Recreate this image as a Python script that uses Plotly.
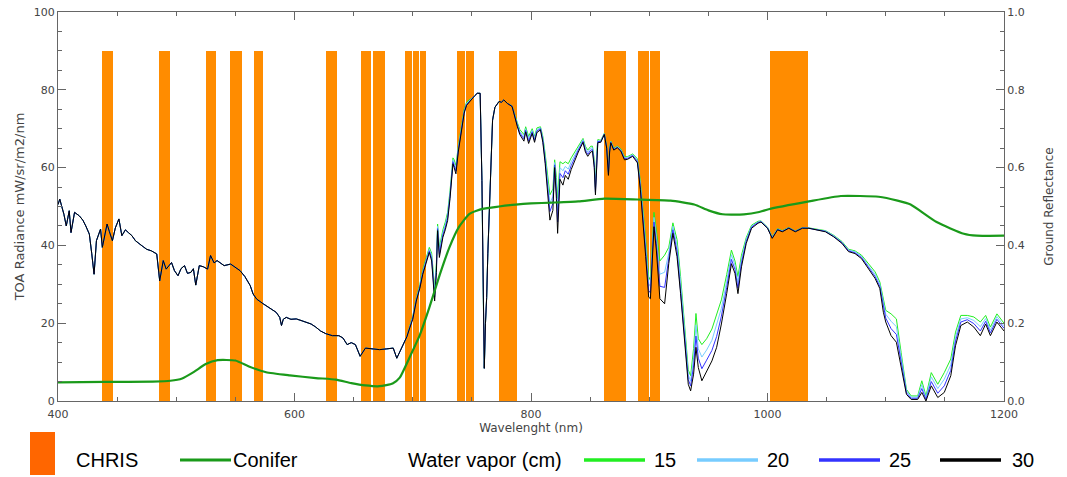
import plotly.graph_objects as go

# ---------------- data ----------------
# CHRIS band edges (nm)
band_start = [437.5, 485.5, 525.5, 545.5, 565.5, 626.5, 656, 666, 693.5, 700.2,
              706.5, 737.5, 745.2, 773.2, 862, 890.8, 900.4, 1001.8]
band_end = [446.2, 494.5, 533.5, 556, 573, 636, 665, 676.5, 699.2, 705.5,
            711.5, 744.3, 751.5, 787.8, 880.2, 899.4, 908.9, 1034.5]
band_height = 90

# visible part: all water vapour curves overlap
wl_vis = [400, 401.5, 403, 405, 407, 409.5, 411, 414, 418, 421,
          423.5, 426.5, 428.5, 430.5, 432.5, 436, 437.5, 441.5, 443.5, 446,
          448.5, 451.5, 454, 457, 459.5, 462.5, 465.5, 468, 471, 475,
          479, 483.5, 486, 489, 491.5, 496, 498.5, 501.5, 504, 507,
          509.5, 512.5, 514.5, 516.5, 519.5, 523, 526.5, 529, 532, 534.5,
          537.5, 540.5, 546, 550, 554, 558, 562.5, 565, 568, 573.5,
          579, 584.5, 587.5, 589, 590.5, 593, 597, 601.5, 605.5, 609.5,
          614, 618, 622, 626.5, 632, 637.5, 641, 644.5, 648, 651.5,
          655.5, 660, 665, 672, 678, 683.5, 686.5, 689, 692, 695]
rad_vis = [50.5, 51.9, 50.2, 48, 45, 48.9, 43.3, 48.5, 47.6, 46.5,
           45, 42.9, 38, 32.6, 41.2, 44.2, 39.5, 45.5, 43.5, 41.2,
           44.5, 46.8, 42.5, 44, 43.3, 42.5, 41.2, 40.5, 39.9, 39,
           38.6, 37.8, 30.9, 36.1, 33.9, 35.6, 33.5, 32.2, 34, 34.8,
           32.8, 33.1, 34, 29.8, 34.8, 34.5, 33.9, 37.4, 35.5, 36.1,
           35.5, 34.8, 35.2, 34.3, 33.5, 32, 29.7, 27.5, 26.2, 25,
           24, 22.8, 21.5, 19.4, 21, 21.5, 21, 21.1, 20.7, 20.3,
           19.8, 19, 18, 17.3, 16.8, 16.8, 16.2, 14.5, 15, 14.5,
           11.5, 13.6, 13.5, 13.2, 13.4, 13.6, 11, 12.5, 14.5, 16.5]

wl_nir = [697.5, 700, 703, 706, 708.5, 711.5, 714, 716, 717.5, 718.5,
          720, 721, 722.5, 725.5, 727.5, 729.5, 731.5, 734, 735, 736.5,
          738.5, 741, 743.5, 745.5, 748, 750, 752.5, 754.5, 757, 758.5,
          759.5, 760.5, 761.5, 762.5, 763.5, 764.5, 766, 767.5, 769.5, 773,
          775, 777, 780, 784, 788.5, 790.5, 794, 795.5, 798, 801,
          803, 805, 808, 810, 812, 814.5, 816, 818.5, 820, 821.5,
          822.5, 824.5, 827, 829, 831.5, 834, 837, 840, 844, 846,
          848, 850.5, 852, 853.5, 854.5, 855.5, 856.5, 859, 862, 864,
          865.5, 866.5, 867.5, 870, 873, 876, 879, 881.5, 886, 890,
          892.5, 897, 899.5, 901, 902.5, 904, 906, 909, 913, 916.5,
          920, 923.5, 926.5, 930.5, 933, 935, 937.5, 939.5, 941.5, 944.5,
          948.5, 953, 957, 961, 965.5, 969.5, 972.5, 975, 978, 982,
          986.5, 992, 994.5, 1000, 1004, 1008.5, 1012.5, 1018, 1023.5, 1029.5,
          1035, 1040.5, 1049, 1056, 1063, 1068.5, 1074, 1079.5, 1085, 1091,
          1095, 1098, 1100, 1104.5, 1109, 1113, 1117.5, 1121.5, 1127, 1130.5,
          1134, 1138.5, 1144, 1149.5, 1155, 1159, 1163.5, 1169, 1174.5, 1180,
          1184.5, 1188.5, 1194, 1200]

rad15_nir = [19.3, 21.8, 26.5, 30, 33.8, 36.8, 39.5, 38, 33, 29,
             35.5, 45.5, 39.5, 44, 46, 48.5, 54, 62.5, 62, 60.5,
             65.5, 70, 75, 76.8, 77.5, 77.8, 78.6, 79.1, 79.1, 56.7,
             30, 8.4, 20, 26.6, 38, 48.1, 62, 72.2, 75.5, 77,
             76.8, 77.4, 76.5, 75.9, 71.5, 69.8, 68.5, 70.5, 68, 70,
             68, 70.2, 70.5, 68, 63.5, 56.5, 53, 54.5, 62, 57.5,
             52, 61.5, 61, 61.5, 61, 62.5, 64, 65.5, 67.5, 65.5,
             64.5, 65.5, 65.5, 62, 55, 63.5, 67.2, 67, 68.8, 65.5,
             59, 65, 66.8, 65, 65.5, 64.8, 62.8, 62.8, 63.5, 62.3,
             56.5, 41.5, 32, 31, 41, 48.5, 44, 36, 37.5, 39.5,
             45.8, 41.5, 32, 17.5, 8, 6.5, 13.5, 22.5, 16, 14.5,
             16, 18.5, 22.5, 26, 32.5, 38.8, 36, 32, 37.5, 42,
             45.2, 46.2, 46.3, 44.7, 42.2, 44.3, 43.8, 44.6, 43.7, 44.6,
             44.5, 44.2, 43.8, 42.6, 41, 39, 38.6, 37.5, 35.3, 33.2,
             30.6, 26.3, 23.3, 22.4, 21.1, 12.5, 3, 1.3, 1.3, 5.2,
             1.3, 7.3, 4.3, 7.3, 10.8, 17.7, 22, 22, 21.6, 20.3,
             22, 19, 22.4, 20]

rad20_nir = [19.1, 21.5, 26.2, 29.6, 33.3, 36.3, 39, 37.3, 32, 27.8,
             34.6, 44.9, 38.6, 43.3, 45.3, 47.8, 53.3, 62, 61.3, 59.8,
             65, 69.6, 74.6, 76.5, 77.3, 77.7, 78.6, 79.1, 79.1, 56.7,
             30, 8.4, 20, 26.6, 38, 48.1, 62, 72.2, 75.5, 77,
             76.8, 77.4, 76.5, 75.8, 71.1, 69.3, 67.9, 70, 67.4, 69.6,
             67.5, 69.8, 70.2, 67.5, 62.6, 55, 50.8, 52.6, 61.3, 55.6,
             49, 60, 59.2, 60.3, 59.6, 61.5, 63.3, 65, 67.2, 65,
             64, 65, 65.1, 61.3, 54.3, 63, 66.9, 66.8, 68.7, 65.3,
             58.6, 64.6, 66.7, 64.8, 65.4, 64.6, 62.5, 62.6, 63.3, 61.9,
             55.7, 40, 30.2, 29.4, 39.3, 47.2, 42.2, 32.6, 33.1, 38,
             44.9, 40, 30.5, 15.9, 6.7, 5.1, 11.2, 19.5, 13.4, 11.3,
             13.1, 15.6, 19.4, 23.8, 30.8, 37.6, 34.9, 30.5, 36.5, 41.5,
             44.9, 46, 46.2, 44.6, 42.1, 44.2, 43.7, 44.5, 43.6, 44.5,
             44.5, 44.1, 43.7, 42.5, 40.8, 38.8, 38.4, 37.2, 34.9, 32.6,
             30, 25.1, 22.3, 20.5, 19.1, 11.4, 2.6, 1, 1, 4.2,
             0.9, 6.2, 3.2, 5.6, 9.3, 16.5, 21.1, 21.4, 20.7, 19.1,
             21.2, 18.2, 21.7, 19.3]

rad25_nir = [19, 21.3, 26, 29.3, 33, 35.9, 38.6, 36.6, 31, 26.8,
             33.8, 44.3, 37.7, 42.7, 44.6, 47.1, 52.6, 61.5, 60.6, 59.1,
             64.5, 69.2, 74.3, 76.2, 77.1, 77.6, 78.5, 79.1, 79.1, 56.7,
             30, 8.4, 20, 26.6, 38, 48.1, 62, 72.2, 75.5, 77,
             76.8, 77.4, 76.5, 75.8, 70.8, 68.9, 67.4, 69.6, 66.8, 69.2,
             67, 69.4, 70, 67, 61.8, 53.5, 48.7, 50.8, 60.7, 53.8,
             46, 58.5, 57.4, 59.2, 58.3, 60.5, 62.7, 64.5, 66.8, 64.5,
             63.4, 64.5, 64.6, 60.7, 53.7, 62.5, 66.7, 66.7, 68.6, 65.2,
             58.3, 64.3, 66.5, 64.7, 65.2, 64.4, 62.3, 62.3, 63.1, 61.6,
             55, 38.5, 28.4, 27.8, 37.8, 46, 40.5, 29.5, 29.2, 36.7,
             44, 38.5, 29, 14.4, 5.5, 3.9, 9, 16.7, 11, 8.3,
             10.5, 13, 16.6, 21.8, 29.2, 36.4, 33.8, 29, 35.5, 41,
             44.7, 45.9, 46.1, 44.5, 41.9, 44.1, 43.6, 44.5, 43.6, 44.5,
             44.4, 44.1, 43.6, 42.3, 40.7, 38.6, 38.1, 36.9, 34.5, 32,
             29.4, 23.9, 21.3, 18.6, 17.1, 10.2, 2.1, 0.7, 0.7, 3.2,
             0.4, 5, 2, 3.9, 7.9, 15.4, 20.3, 20.9, 19.9, 18,
             20.5, 17.5, 21, 18.7]

rad30_nir = [18.8, 21, 25.7, 29, 32.6, 35.5, 38.2, 36, 30, 25.7,
             33, 43.8, 36.9, 42.1, 44, 46.4, 52, 61, 60, 58.4,
             64, 68.8, 74, 76, 77, 77.5, 78.5, 79.1, 79.1, 56.7,
             30, 8.4, 20, 26.6, 38, 48.1, 62, 72.2, 75.5, 77,
             76.8, 77.4, 76.5, 75.7, 70.5, 68.5, 66.8, 69.2, 66.2, 68.8,
             66.5, 69, 69.7, 66.5, 61, 52, 46.5, 49, 60, 52,
             43.1, 57, 55.5, 58, 57, 59.5, 62, 64, 66.5, 64,
             62.9, 64, 64.2, 60, 53, 62, 66.4, 66.5, 68.5, 65,
             58, 64, 66.4, 64.5, 65.1, 64.2, 62, 62.1, 62.9, 61.2,
             54.3, 37.1, 26.7, 26.3, 36.2, 44.8, 38.8, 26.3, 25, 35.3,
             43.1, 37.1, 27.6, 12.9, 4.3, 2.6, 6.9, 13.8, 8.6, 5.2,
             7.8, 10.3, 13.8, 19.8, 27.6, 35.3, 32.8, 27.6, 34.5, 40.5,
             44.4, 45.7, 46, 44.4, 41.8, 44, 43.5, 44.4, 43.5, 44.4,
             44.4, 44, 43.5, 42.2, 40.5, 38.4, 37.9, 36.6, 34.1, 31.5,
             28.9, 22.8, 20.3, 16.8, 15.1, 9.1, 1.7, 0.4, 0.4, 2.2,
             0, 3.9, 0.9, 2.2, 6.5, 14.2, 19.4, 20.3, 19, 16.8,
             19.8, 16.8, 20.3, 18]

conifer_wl = [400, 440, 480, 495, 505, 515, 525, 535, 550, 562,
              576, 596, 618, 635, 648, 660, 672, 683, 689, 697,
              706, 714, 723, 731, 739, 748, 759, 773, 787, 800,
              818, 840, 862, 890, 918, 938, 950, 962, 980, 993,
              1001, 1035, 1062, 1094, 1110, 1121, 1143, 1166, 1177, 1200]
conifer_ref = [0.048, 0.049, 0.050, 0.052, 0.058, 0.075, 0.095, 0.105, 0.104, 0.088,
               0.074, 0.066, 0.059, 0.055, 0.046, 0.040, 0.038, 0.045, 0.060, 0.11,
               0.17, 0.24, 0.326, 0.395, 0.447, 0.481, 0.494, 0.50, 0.505, 0.508,
               0.510, 0.513, 0.52, 0.518, 0.515, 0.505, 0.49, 0.48, 0.48, 0.486,
               0.493, 0.513, 0.527, 0.525, 0.515, 0.505, 0.46, 0.43, 0.425, 0.425]

vapor_labels = ["15", "20", "25", "30"]
vapor_colors = ["#22ee22", "#77ccff", "#3333ff", "#000000"]

x_ticks = [400, 600, 800, 1000, 1200]
y_ticks = [0, 20, 40, 60, 80, 100]
y2_ticks = [0, 0.2, 0.4, 0.6, 0.8, 1.0]

# ---------------- figure ----------------
W, H = 1067, 477
ML, MR, MT, MB = 58, 63, 12, 76
PW, PH = W - ML - MR, H - MT - MB
AX_FONT = "DejaVu Sans, Verdana, sans-serif"

fig = go.Figure()

centers = [(a + b) / 2 for a, b in zip(band_start, band_end)]
widths = [b - a for a, b in zip(band_start, band_end)]
fig.add_trace(go.Bar(x=centers, y=[band_height] * len(centers), width=widths,
                     marker=dict(color="#ff8c00", line=dict(width=0)),
                     showlegend=False, hoverinfo="skip"))

wl_all = wl_vis + wl_nir
series = [rad_vis + rad15_nir, rad_vis + rad20_nir, rad_vis + rad25_nir, rad_vis + rad30_nir]
for lab, col, vals in zip(vapor_labels, vapor_colors, series):
    fig.add_trace(go.Scatter(x=wl_all, y=vals, mode="lines", name=lab,
                             line=dict(color=col, width=1), showlegend=False))

fig.add_trace(go.Scatter(x=conifer_wl, y=conifer_ref, mode="lines", yaxis="y2",
                         line=dict(color="#1a9a1a", width=2.2, shape="spline", smoothing=0.5),
                         showlegend=False, name="Conifer"))

axis_common = dict(showline=True, linecolor="#666", linewidth=1, ticks="inside",
                   tickcolor="#666", ticklen=8, tickwidth=1, showgrid=False, zeroline=False,
                   automargin=False,
                   tickfont=dict(family=AX_FONT, size=11, color="#444"))

fig.update_layout(
    width=W, height=H, margin=dict(l=ML, r=MR, t=MT, b=MB, autoexpand=False),
    paper_bgcolor="white", plot_bgcolor="white", bargap=0,
    font=dict(family=AX_FONT, color="#444"),
    xaxis=dict(range=[400, 1200], tickvals=x_ticks, mirror="ticks", ticklabelstandoff=3,
               minor=dict(dtick=50, ticklen=4, ticks="inside", tickcolor="#666"),
               title=dict(text="Wavelenght (nm)", font=dict(size=12), standoff=2),
               **axis_common),
    yaxis=dict(range=[0, 100], tickvals=y_ticks,
               minor=dict(dtick=5, ticklen=4, ticks="inside", tickcolor="#666"),
               title=dict(text="TOA Radiance mW/sr/m2/nm", font=dict(size=13), standoff=6),
               **axis_common),
    yaxis2=dict(range=[0, 1.0], tickvals=y2_ticks, tickformat=".1f", overlaying="y", side="right",
                minor=dict(dtick=0.05, ticklen=4, ticks="inside", tickcolor="#666"),
                title=dict(text="Ground Reflectance", font=dict(size=12), standoff=20),
                **axis_common),
)

# ---------------- custom legend (below plot) ----------------
def px(xp):
    return (xp - ML) / PW

def py(yp):
    return (H - MB - yp) / PH

shapes = [dict(type="rect", xref="paper", yref="paper", x0=px(30), x1=px(55), y0=py(475), y1=py(432),
               fillcolor="#ff6600", line=dict(width=0))]
leg_font = dict(family="Liberation Sans, Arial", size=20, color="#000")
ann = []
ly = 460
ann.append(dict(text="CHRIS", x=px(74), y=py(ly), xref="paper", yref="paper",
                xanchor="left", yanchor="middle", showarrow=False, font=leg_font))
shapes.append(dict(type="line", xref="paper", yref="paper", x0=px(180), x1=px(231), y0=py(ly), y1=py(ly),
                   line=dict(color="#1a9a1a", width=3)))
ann.append(dict(text="Conifer", x=px(231), y=py(ly), xref="paper", yref="paper",
                xanchor="left", yanchor="middle", showarrow=False, font=leg_font))
ann.append(dict(text="Water vapor (cm)", x=px(406), y=py(ly), xref="paper", yref="paper",
                xanchor="left", yanchor="middle", showarrow=False, font=leg_font))
line_x0 = [584, 697, 819, 940]
line_x1 = [645, 758, 880, 1001]
text_x = [652, 765, 887, 1010]
leg_colors = ["#22ee22", "#77ccff", "#3333ff", "#000000"]
for lab, c, a, b, t in zip(vapor_labels, leg_colors, line_x0, line_x1, text_x):
    shapes.append(dict(type="line", xref="paper", yref="paper", x0=px(a), x1=px(b), y0=py(ly), y1=py(ly),
                       line=dict(color=c, width=3.5)))
    ann.append(dict(text=lab, x=px(t), y=py(ly), xref="paper", yref="paper",
                    xanchor="left", yanchor="middle", showarrow=False, font=leg_font))

fig.update_layout(shapes=shapes, annotations=ann)

fig.write_html("out.html", config={"displayModeBar": False},
               post_script="document.body.style.margin='0';document.body.style.overflow='hidden';")
